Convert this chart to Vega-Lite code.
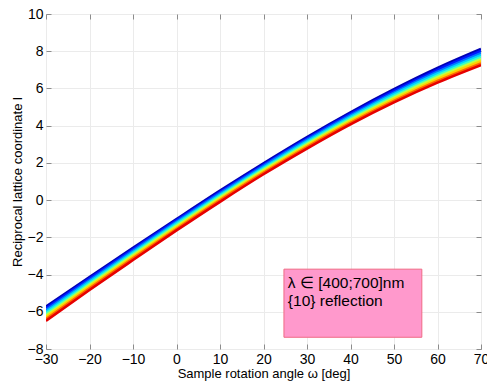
{
  "$schema": "https://vega.github.io/schema/vega-lite/v6.json",
  "width": 435,
  "height": 335,
  "autosize": {"type": "none"},
  "padding": {"left": 46, "top": 14, "right": 6, "bottom": 34},
  "background": "white",
  "config": {
    "font": "Liberation Sans",
    "view": {"stroke": "#8c8c8c", "strokeWidth": 1},
    "axis": {
      "domain": false,
      "labelFont": "Liberation Sans",
      "labelFontSize": 14,
      "labelColor": "#000000",
      "titleFont": "Liberation Sans",
      "titleFontSize": 13,
      "titleFontWeight": "normal",
      "titleColor": "#000000",
      "tickColor": "#8c8c8c",
      "tickSize": -5,
      "gridColor": "#ebebeb",
      "gridWidth": 1
    }
  },
  "datasets": {
    "curves": [
      {"w":400,"x":-30,"l":-5.72},{"w":437.5,"x":-30,"l":-5.81},{"w":475,"x":-30,"l":-5.91},{"w":512.5,"x":-30,"l":-6.00},{"w":550,"x":-30,"l":-6.10},{"w":587.5,"x":-30,"l":-6.20},{"w":625,"x":-30,"l":-6.29},{"w":662.5,"x":-30,"l":-6.39},{"w":700,"x":-30,"l":-6.49},
      {"w":400,"x":-20,"l":-4.14},{"w":437.5,"x":-20,"l":-4.22},{"w":475,"x":-20,"l":-4.31},{"w":512.5,"x":-20,"l":-4.39},{"w":550,"x":-20,"l":-4.48},{"w":587.5,"x":-20,"l":-4.57},{"w":625,"x":-20,"l":-4.65},{"w":662.5,"x":-20,"l":-4.74},{"w":700,"x":-20,"l":-4.83},
      {"w":400,"x":-10,"l":-2.57},{"w":437.5,"x":-10,"l":-2.65},{"w":475,"x":-10,"l":-2.73},{"w":512.5,"x":-10,"l":-2.81},{"w":550,"x":-10,"l":-2.89},{"w":587.5,"x":-10,"l":-2.97},{"w":625,"x":-10,"l":-3.05},{"w":662.5,"x":-10,"l":-3.13},{"w":700,"x":-10,"l":-3.22},
      {"w":400,"x":0,"l":-1.02},{"w":437.5,"x":0,"l":-1.09},{"w":475,"x":0,"l":-1.17},{"w":512.5,"x":0,"l":-1.24},{"w":550,"x":0,"l":-1.32},{"w":587.5,"x":0,"l":-1.40},{"w":625,"x":0,"l":-1.47},{"w":662.5,"x":0,"l":-1.55},{"w":700,"x":0,"l":-1.63},
      {"w":400,"x":10,"l":0.51},{"w":437.5,"x":10,"l":0.43},{"w":475,"x":10,"l":0.36},{"w":512.5,"x":10,"l":0.28},{"w":550,"x":10,"l":0.21},{"w":587.5,"x":10,"l":0.14},{"w":625,"x":10,"l":0.06},{"w":662.5,"x":10,"l":-0.01},{"w":700,"x":10,"l":-0.09},
      {"w":400,"x":20,"l":1.98},{"w":437.5,"x":20,"l":1.90},{"w":475,"x":20,"l":1.83},{"w":512.5,"x":20,"l":1.75},{"w":550,"x":20,"l":1.68},{"w":587.5,"x":20,"l":1.61},{"w":625,"x":20,"l":1.53},{"w":662.5,"x":20,"l":1.46},{"w":700,"x":20,"l":1.39},
      {"w":400,"x":30,"l":3.39},{"w":437.5,"x":30,"l":3.31},{"w":475,"x":30,"l":3.23},{"w":512.5,"x":30,"l":3.16},{"w":550,"x":30,"l":3.08},{"w":587.5,"x":30,"l":3.00},{"w":625,"x":30,"l":2.93},{"w":662.5,"x":30,"l":2.85},{"w":700,"x":30,"l":2.77},
      {"w":400,"x":40,"l":4.72},{"w":437.5,"x":40,"l":4.63},{"w":475,"x":40,"l":4.55},{"w":512.5,"x":40,"l":4.47},{"w":550,"x":40,"l":4.39},{"w":587.5,"x":40,"l":4.31},{"w":625,"x":40,"l":4.23},{"w":662.5,"x":40,"l":4.15},{"w":700,"x":40,"l":4.07},
      {"w":400,"x":50,"l":5.96},{"w":437.5,"x":50,"l":5.87},{"w":475,"x":50,"l":5.78},{"w":512.5,"x":50,"l":5.69},{"w":550,"x":50,"l":5.60},{"w":587.5,"x":50,"l":5.51},{"w":625,"x":50,"l":5.42},{"w":662.5,"x":50,"l":5.33},{"w":700,"x":50,"l":5.25},
      {"w":400,"x":60,"l":7.10},{"w":437.5,"x":60,"l":7.00},{"w":475,"x":60,"l":6.90},{"w":512.5,"x":60,"l":6.80},{"w":550,"x":60,"l":6.70},{"w":587.5,"x":60,"l":6.60},{"w":625,"x":60,"l":6.50},{"w":662.5,"x":60,"l":6.40},{"w":700,"x":60,"l":6.31},
      {"w":400,"x":70,"l":8.12},{"w":437.5,"x":70,"l":8.01},{"w":475,"x":70,"l":7.90},{"w":512.5,"x":70,"l":7.79},{"w":550,"x":70,"l":7.68},{"w":587.5,"x":70,"l":7.57},{"w":625,"x":70,"l":7.46},{"w":662.5,"x":70,"l":7.35},{"w":700,"x":70,"l":7.25}
    ],
    "box": [
      {"x1": 24.7, "x2": 56.4, "y1": -3.71, "y2": -7.37}
    ],
    "notes": [
      {"tx": 25.6, "ty": -4.46, "label": "λ ∈ [400;700]nm"},
      {"tx": 25.6, "ty": -5.43, "label": "{10} reflection"}
    ]
  },
  "layer": [
    {
      "data": {"name": "curves"},
      "mark": {"type": "line", "interpolate": "monotone", "strokeWidth": 2.6, "clip": true},
      "encoding": {
        "x": {"field": "x", "type": "quantitative",
              "scale": {"domain": [-30, 70], "nice": false, "zero": false},
              "axis": {"orient": "bottom", "values": [-30,-20,-10,0,10,20,30,40,50,60,70], "title": "Sample rotation angle ω [deg]", "labelPadding": 8, "titlePadding": 1, "labelFlush": false}},
        "y": {"field": "l", "type": "quantitative",
              "scale": {"domain": [-8, 10], "nice": false, "zero": false},
              "axis": {"orient": "left", "values": [-8,-6,-4,-2,0,2,4,6,8,10], "title": "Reciprocal lattice coordinate l", "labelPadding": 8, "titlePadding": 3, "labelFlush": false}},
        "color": {"field": "w", "type": "ordinal", "legend": null,
                  "scale": {"range": ["#0000b4", "#0018ff", "#0078ff", "#00d4ff", "#40ffc0", "#c0ff40", "#ffd000", "#ff6400", "#e60000"]}},
        "order": {"field": "x", "type": "quantitative"}
      }
    },
    {
      "data": {"name": "box"},
      "mark": {"type": "rect", "fill": "#ff99cc", "stroke": "#f06a85", "strokeWidth": 1},
      "encoding": {
        "x": {"field": "x1", "type": "quantitative",
              "scale": {"domain": [-30, 70], "nice": false, "zero": false},
              "axis": {"orient": "top", "values": [-30,-20,-10,0,10,20,30,40,50,60,70], "labels": false, "title": null, "grid": false}},
        "x2": {"field": "x2"},
        "y": {"field": "y1", "type": "quantitative",
              "scale": {"domain": [-8, 10], "nice": false, "zero": false},
              "axis": {"orient": "right", "values": [-8,-6,-4,-2,0,2,4,6,8,10], "labels": false, "title": null, "grid": false}},
        "y2": {"field": "y2"}
      }
    },
    {
      "data": {"name": "notes"},
      "mark": {"type": "text", "align": "left", "baseline": "middle", "fontSize": 15.5, "font": "Liberation Sans", "color": "#000000"},
      "encoding": {
        "x": {"field": "tx", "type": "quantitative", "scale": {"domain": [-30, 70], "nice": false, "zero": false}, "axis": null},
        "y": {"field": "ty", "type": "quantitative", "scale": {"domain": [-8, 10], "nice": false, "zero": false}, "axis": null},
        "text": {"field": "label"}
      }
    }
  ],
  "resolve": {"scale": {"x": "independent", "y": "independent"}, "axis": {"x": "independent", "y": "independent"}}
}
